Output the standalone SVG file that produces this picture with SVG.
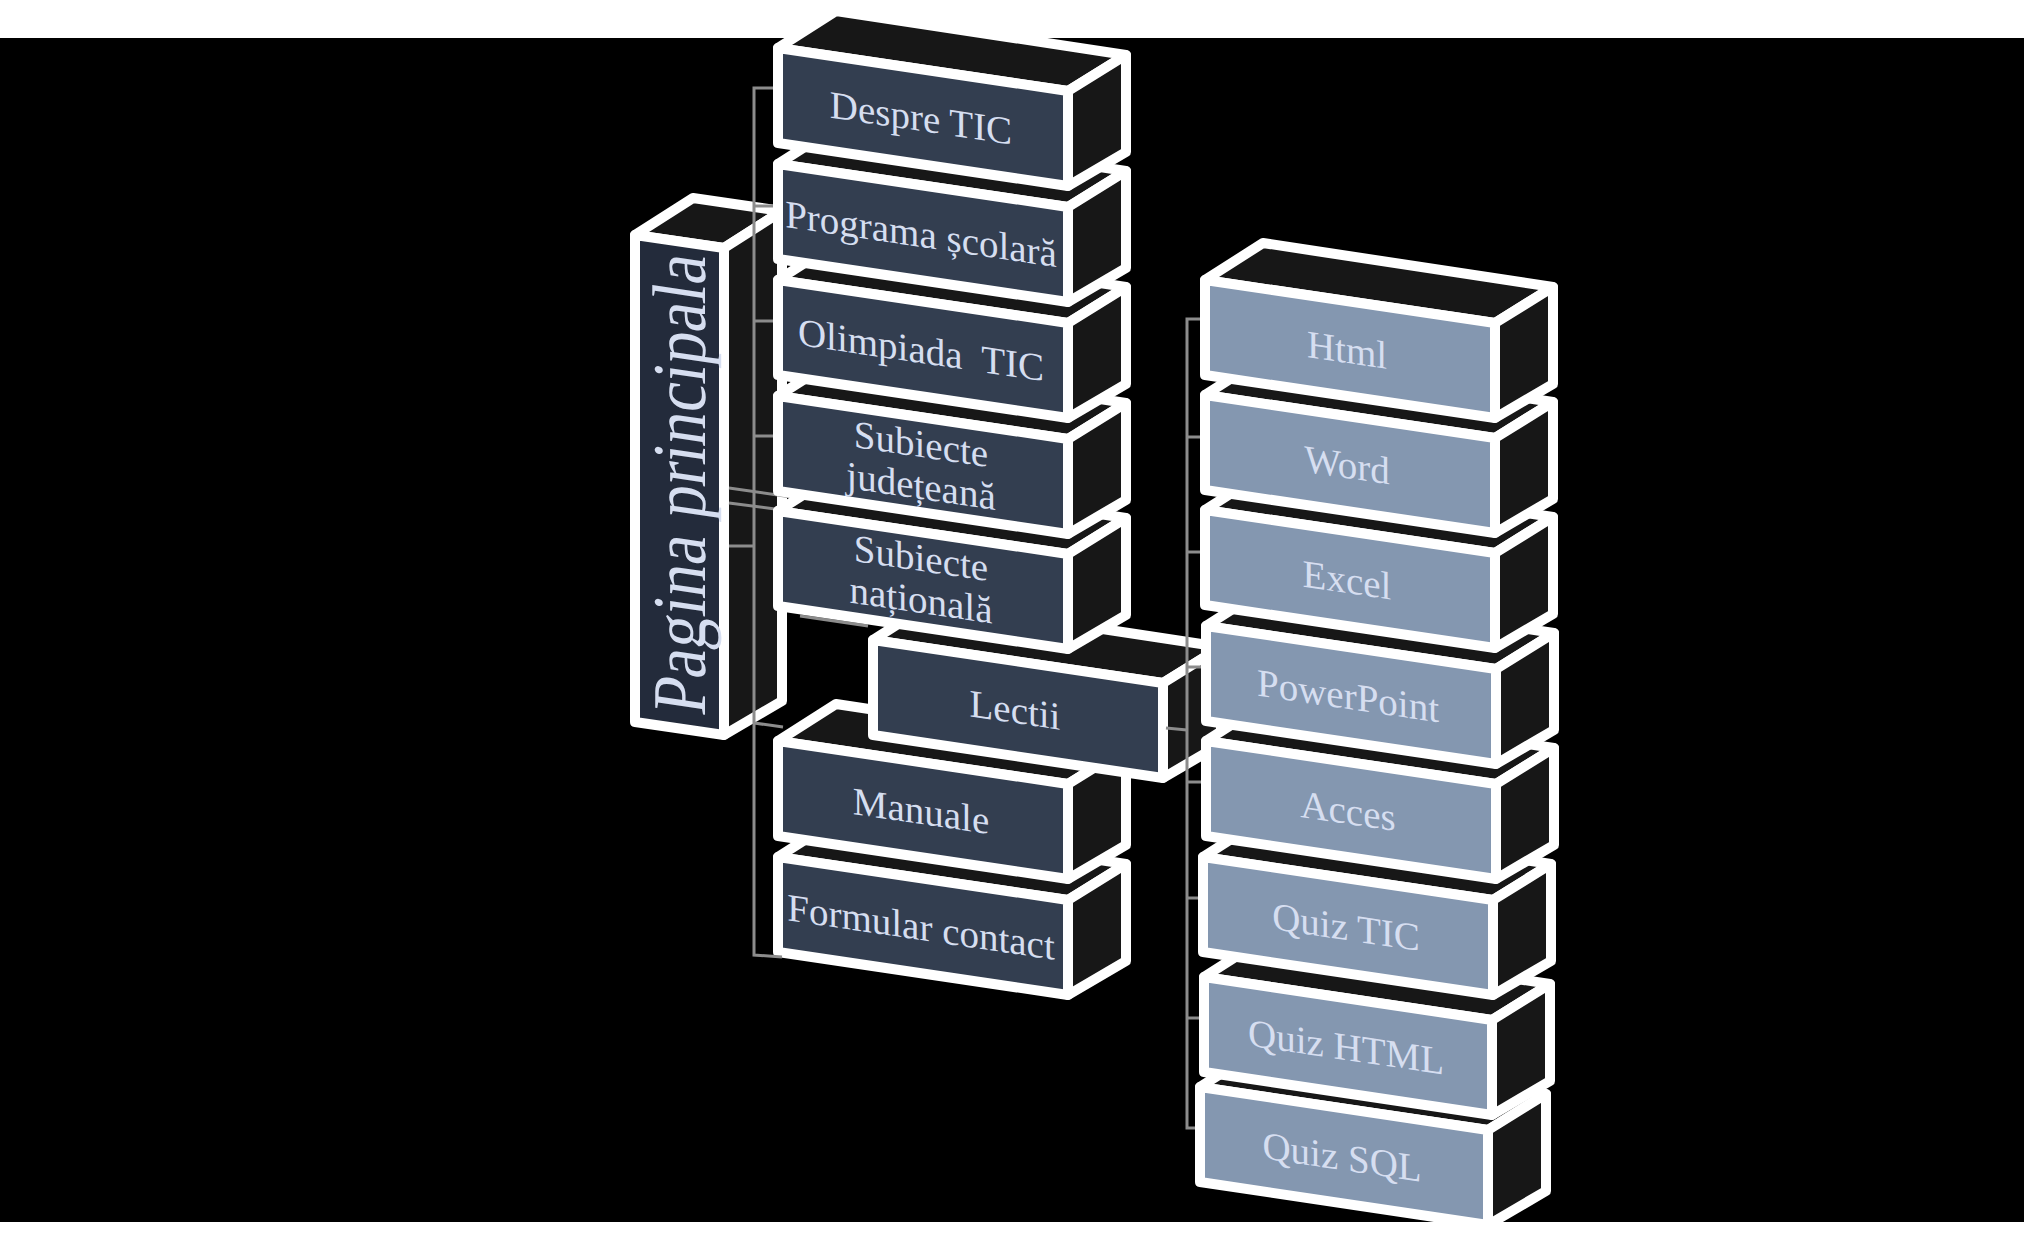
<svg xmlns="http://www.w3.org/2000/svg" width="2024" height="1236" viewBox="0 0 2024 1236">
<style>
.top,.side{fill:#171717;stroke:#FFFFFF;stroke-width:10;stroke-linejoin:round}
.fd{fill:#333E50;stroke:#FFFFFF;stroke-width:10;stroke-linejoin:round}
.fp{fill:#232B3B;stroke:#FFFFFF;stroke-width:10;stroke-linejoin:round}
.fl{fill:#8497B0;stroke:#FFFFFF;stroke-width:10;stroke-linejoin:round}
.t{font-family:"Liberation Serif","Times New Roman",serif;font-size:39px;fill:#D6DEF0;text-anchor:middle}
.c{stroke:#8C8C8C;stroke-width:3;fill:none}
</style>
<rect x="0" y="0" width="2024" height="1236" fill="#FFFFFF"/>
<rect x="0" y="38" width="2024" height="1184" fill="#000000"/>

<g id="pagina-principala">
<polygon class="top" points="635,235 693,198 782,211 724,248"/>
<polygon class="side" points="724,248 782,211 782,701 724,735"/>
<polygon class="fp" points="635,235 724,248 724,735 635,722"/>
<text class="t" style="font-size:76px" transform="matrix(0 -1 1 0.148 705 487)" x="0" y="0" textLength="460" lengthAdjust="spacingAndGlyphs">Pagina principala</text>
</g>

<g id="formular-contact">
<polygon class="top" points="778,857 836,820 1126,864 1068,900"/>
<polygon class="side" points="1068,900 1126,864 1126,961 1068,995"/>
<polygon class="fd" points="778,857 1068,900 1068,995 778,952"/>
<text class="t" transform="matrix(1 0.148 0 1 921 926)" x="0" y="14">Formular contact</text>
</g>

<g id="manuale">
<polygon class="top" points="778,741 836,704 1126,748 1068,784"/>
<polygon class="side" points="1068,784 1126,748 1126,845 1068,879"/>
<polygon class="fd" points="778,741 1068,784 1068,879 778,836"/>
<text class="t" transform="matrix(1 0.148 0 1 921 810)" x="0" y="14">Manuale</text>
</g>

<g id="lectii">
<polygon class="top" points="873,640 931,603 1221,647 1163,683"/>
<polygon class="side" points="1163,683 1221,647 1221,744 1163,778"/>
<polygon class="fd" points="873,640 1163,683 1163,778 873,735"/>
<text class="t" transform="matrix(1 0.148 0 1 1015 709)" x="0" y="14">Lectii</text>
</g>

<g id="connectors">
<polyline class="c" points="778,88 754,88 754,955 782,957"/>
<line class="c" x1="754" y1="206" x2="778" y2="206"/>
<line class="c" x1="754" y1="321" x2="778" y2="321"/>
<line class="c" x1="754" y1="436" x2="778" y2="436"/>
<line class="c" x1="754" y1="723" x2="783" y2="727"/>
<line class="c" x1="729" y1="488" x2="812" y2="500"/>
<line class="c" x1="729" y1="503" x2="790" y2="511"/>
<line class="c" x1="729" y1="546" x2="754" y2="546"/>
<line class="c" x1="800" y1="616" x2="868" y2="626"/>
<polyline class="c" points="1205,319 1187,319 1187,1128 1205,1128"/>
<line class="c" x1="1187" y1="437" x2="1205" y2="437"/>
<line class="c" x1="1187" y1="552" x2="1205" y2="552"/>
<line class="c" x1="1187" y1="667" x2="1205" y2="667"/>
<line class="c" x1="1187" y1="782" x2="1205" y2="782"/>
<line class="c" x1="1187" y1="898" x2="1205" y2="898"/>
<line class="c" x1="1187" y1="1018" x2="1205" y2="1018"/>
<line class="c" x1="1166" y1="728" x2="1187" y2="730"/>
</g>

<g id="subiecte-nationala">
<polygon class="top" points="778,511 836,474 1126,518 1068,554"/>
<polygon class="side" points="1068,554 1126,518 1126,615 1068,649"/>
<polygon class="fd" points="778,511 1068,554 1068,649 778,606"/>
<text class="t" transform="matrix(1 0.148 0 1 921 580)"><tspan x="0" y="-9">Subiecte</tspan><tspan x="0" y="33">națională</tspan></text>
</g>

<g id="subiecte-judeteana">
<polygon class="top" points="778,396 836,359 1126,403 1068,439"/>
<polygon class="side" points="1068,439 1126,403 1126,500 1068,534"/>
<polygon class="fd" points="778,396 1068,439 1068,534 778,491"/>
<text class="t" transform="matrix(1 0.148 0 1 921 465)"><tspan x="0" y="-8">Subiecte</tspan><tspan x="0" y="34">județeană</tspan></text>
</g>

<g id="olimpiada-tic">
<polygon class="top" points="778,280 836,243 1126,287 1068,323"/>
<polygon class="side" points="1068,323 1126,287 1126,384 1068,418"/>
<polygon class="fd" points="778,280 1068,323 1068,418 778,375"/>
<text class="t" transform="matrix(1 0.148 0 1 921 349)" x="0" y="14" xml:space="preserve">Olimpiada  TIC</text>
</g>

<g id="programa-scolara">
<polygon class="top" points="778,164 836,127 1126,171 1068,207"/>
<polygon class="side" points="1068,207 1126,171 1126,268 1068,302"/>
<polygon class="fd" points="778,164 1068,207 1068,302 778,259"/>
<text class="t" transform="matrix(1 0.148 0 1 921 233)" x="0" y="14">Programa școlară</text>
</g>

<g id="despre-tic">
<polygon class="top" points="778,48 836,11 1126,55 1068,91"/>
<polygon class="side" points="1068,91 1126,55 1126,152 1068,186"/>
<polygon class="fd" points="778,48 1068,91 1068,186 778,143"/>
<text class="t" transform="matrix(1 0.148 0 1 921 117)" x="0" y="14">Despre TIC</text>
</g>

<g id="quiz-sql">
<polygon class="top" points="1200,1087 1258,1050 1546,1094 1488,1130"/>
<polygon class="side" points="1488,1130 1546,1094 1546,1191 1488,1225"/>
<polygon class="fl" points="1200,1087 1488,1130 1488,1225 1200,1182"/>
<text class="t" transform="matrix(1 0.148 0 1 1342 1156)" x="0" y="14">Quiz SQL</text>
</g>

<g id="quiz-html">
<polygon class="top" points="1204,977 1262,940 1550,984 1492,1020"/>
<polygon class="side" points="1492,1020 1550,984 1550,1081 1492,1115"/>
<polygon class="fl" points="1204,977 1492,1020 1492,1115 1204,1072"/>
<text class="t" transform="matrix(1 0.148 0 1 1346 1046)" x="0" y="14">Quiz HTML</text>
</g>

<g id="quiz-tic">
<polygon class="top" points="1203,857 1261,820 1551,864 1493,900"/>
<polygon class="side" points="1493,900 1551,864 1551,961 1493,995"/>
<polygon class="fl" points="1203,857 1493,900 1493,995 1203,952"/>
<text class="t" transform="matrix(1 0.148 0 1 1346 926)" x="0" y="14">Quiz TIC</text>
</g>

<g id="acces">
<polygon class="top" points="1206,741 1264,704 1554,748 1496,784"/>
<polygon class="side" points="1496,784 1554,748 1554,845 1496,879"/>
<polygon class="fl" points="1206,741 1496,784 1496,879 1206,836"/>
<text class="t" transform="matrix(1 0.148 0 1 1348 810)" x="0" y="14">Acces</text>
</g>

<g id="powerpoint">
<polygon class="top" points="1206,626 1264,589 1554,633 1496,669"/>
<polygon class="side" points="1496,669 1554,633 1554,730 1496,764"/>
<polygon class="fl" points="1206,626 1496,669 1496,764 1206,721"/>
<text class="t" transform="matrix(1 0.148 0 1 1348 695)" x="0" y="14">PowerPoint</text>
</g>

<g id="excel">
<polygon class="top" points="1205,510 1263,473 1553,517 1495,553"/>
<polygon class="side" points="1495,553 1553,517 1553,614 1495,648"/>
<polygon class="fl" points="1205,510 1495,553 1495,648 1205,605"/>
<text class="t" transform="matrix(1 0.148 0 1 1347 579)" x="0" y="14">Excel</text>
</g>

<g id="word">
<polygon class="top" points="1205,395 1263,358 1553,402 1495,438"/>
<polygon class="side" points="1495,438 1553,402 1553,499 1495,533"/>
<polygon class="fl" points="1205,395 1495,438 1495,533 1205,490"/>
<text class="t" transform="matrix(1 0.148 0 1 1347 464)" x="0" y="14">Word</text>
</g>

<g id="html">
<polygon class="top" points="1205,280 1263,243 1553,287 1495,323"/>
<polygon class="side" points="1495,323 1553,287 1553,384 1495,418"/>
<polygon class="fl" points="1205,280 1495,323 1495,418 1205,375"/>
<text class="t" transform="matrix(1 0.148 0 1 1347 349)" x="0" y="14">Html</text>
</g>
</svg>
